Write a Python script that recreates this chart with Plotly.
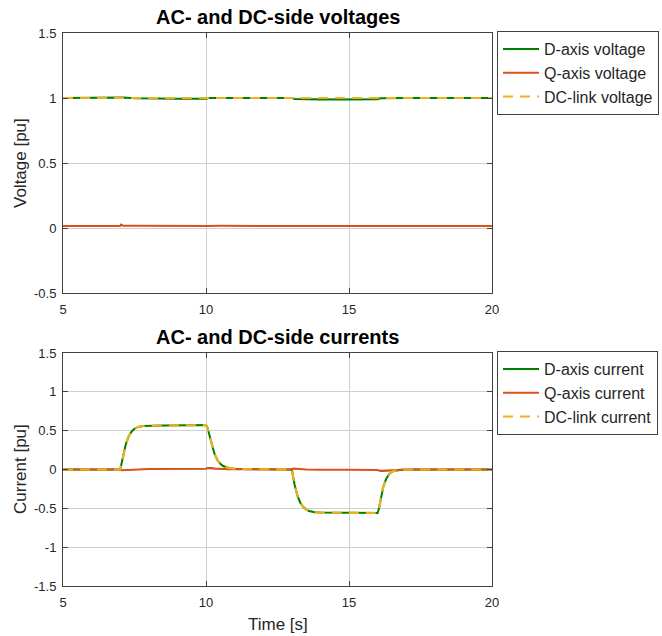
import plotly.graph_objects as go

# ---- time axes [s] ----
t_v = [5, 6.0, 7.0, 7.03, 7.1, 7.5, 8.0, 9.0, 10.0, 10.1, 10.5, 11.0, 12.0, 13.0, 13.1,
       13.5, 14.0, 15.0, 16.0, 16.1, 16.5, 17.0, 18.0, 19.0, 20]

# ---- voltages [pu] ----
v_d = [1.0, 1.0, 1.0, 1.004, 1.003, 0.998, 0.996, 0.995, 0.995, 1.0, 1.0, 1.0, 1.0, 1.0, 0.992,
       0.99, 0.989, 0.989, 0.99, 0.998, 1.0, 1.0, 1.0, 1.0, 1.0]
v_q = [0.015, 0.016, 0.016, 0.026, 0.018, 0.017, 0.016, 0.017, 0.016, 0.016, 0.017, 0.016, 0.016,
       0.016, 0.017, 0.016, 0.015, 0.016, 0.015, 0.018, 0.017, 0.016, 0.016, 0.016, 0.015]
v_dc = [1.0, 1.0, 1.0, 1.0, 1.0, 1.0, 1.0, 1.0, 1.0, 1.0, 1.0, 1.0, 1.0, 1.0, 1.0,
        1.0, 1.0, 1.0, 1.0, 1.0, 1.0, 1.0, 1.0, 1.0, 1.0]

t_i = [5, 7.0, 7.05, 7.1, 7.2, 7.3, 7.4, 7.5, 7.6, 7.8, 8.0, 8.5, 9.5,
       10.0, 10.05, 10.1, 10.15, 10.2, 10.3, 10.4, 10.5, 10.6, 10.8, 11.0, 11.5,
       13.0, 13.05, 13.1, 13.2, 13.3, 13.4, 13.5, 13.6, 13.8, 14.0, 15.0,
       16.0, 16.05, 16.1, 16.2, 16.3, 16.4, 16.5, 16.6, 16.8, 17.0, 17.5, 20]

# ---- currents [pu] ----
i_d = [0.0, 0.0, 0.08, 0.17, 0.33, 0.43, 0.49, 0.525, 0.545, 0.56, 0.565, 0.568, 0.57,
       0.572, 0.54, 0.48, 0.41, 0.33, 0.2, 0.12, 0.075, 0.045, 0.02, 0.01, 0.003,
       0.0, -0.1, -0.2, -0.34, -0.43, -0.48, -0.515, -0.535, -0.55, -0.555, -0.56,
       -0.56, -0.5, -0.4, -0.22, -0.12, -0.06, -0.03, -0.015, -0.005, 0.0, 0.0, 0.0]
i_q = [0.0, 0.0, -0.01, -0.012, -0.008, -0.005, -0.002, 0.0, 0.003, 0.004, 0.005, 0.005, 0.006,
       0.01, 0.02, 0.022, 0.02, 0.018, 0.013, 0.01, 0.008, 0.006, 0.004, 0.003, 0.0,
       0.0, 0.012, 0.012, 0.009, 0.006, 0.003, 0.001, 0.0, -0.002, -0.004, -0.004,
       -0.005, -0.015, -0.02, -0.018, -0.014, -0.01, -0.007, -0.005, -0.002, 0.0, 0.0, 0.0]
i_dc = list(i_d)

GREEN = "#008000"
ORANGE = "#D95319"
YELLOW = "#EDB120"
FONT = "Liberation Sans"
AX = "#262626"

fig = go.Figure()

def add_set(t, d, q, dc, names, xa, ya, leg):
    fig.add_trace(go.Scatter(x=t, y=d, mode="lines", name=names[0], xaxis=xa, yaxis=ya,
                             legend=leg, line=dict(color=GREEN, width=2)))
    fig.add_trace(go.Scatter(x=t, y=q, mode="lines", name=names[1], xaxis=xa, yaxis=ya,
                             legend=leg, line=dict(color=ORANGE, width=2)))
    fig.add_trace(go.Scatter(x=t, y=dc, mode="lines", name=names[2], xaxis=xa, yaxis=ya,
                             legend=leg, line=dict(color=YELLOW, width=2.2, dash="10px,7px")))

add_set(t_v, v_d, v_q, v_dc, ["D-axis voltage", "Q-axis voltage", "DC-link voltage"],
        "x", "y", "legend")
add_set(t_i, i_d, i_q, i_dc, ["D-axis current", "Q-axis current", "DC-link current"],
        "x2", "y2", "legend2")

W, H = 662, 636
xdom = [63 / W, 492 / W]

axis_common = dict(
    showline=True, linecolor="#404040", linewidth=1, mirror="ticks",
    ticks="inside", ticklen=5, tickcolor="#404040",
    showgrid=True, gridcolor="#d0d0d0", gridwidth=1, zeroline=False,
    tickfont=dict(family=FONT, size=13, color=AX), automargin=False,
)

xticks = [5, 10, 15, 20]
xlabels = ["5", "10", "15", "20"]
vticks = [-0.5, 0, 0.5, 1, 1.5]
vlabels = ["-0.5", "0", "0.5", "1", "1.5"]
iticks = [-1.5, -1, -0.5, 0, 0.5, 1, 1.5]
ilabels = ["-1.5", "-1", "-0.5", "0", "0.5", "1", "1.5"]

legend_style = dict(xanchor="left", yanchor="top", bgcolor="white",
                    bordercolor="#404040", borderwidth=1, itemwidth=36,
                    font=dict(family=FONT, size=16, color=AX))

fig.update_layout(
    width=W, height=H, margin=dict(l=0, r=0, t=0, b=0),
    paper_bgcolor="white", plot_bgcolor="white",
    font=dict(family=FONT, color=AX),
    xaxis=dict(domain=xdom, anchor="y", range=[5, 20], tickvals=xticks, ticktext=xlabels,
               ticklabelstandoff=4, **axis_common),
    yaxis=dict(domain=[1 - 293 / H, 1 - 33 / H], anchor="x", range=[-0.5, 1.5],
               tickvals=vticks, ticktext=vlabels, ticklabelstandoff=3, **axis_common),
    xaxis2=dict(domain=xdom, anchor="y2", range=[5, 20], tickvals=xticks, ticktext=xlabels,
                ticklabelstandoff=4, **axis_common),
    yaxis2=dict(domain=[1 - 586 / H, 1 - 353 / H], anchor="x2", range=[-1.5, 1.5],
                tickvals=iticks, ticktext=ilabels, ticklabelstandoff=3, **axis_common),
    legend=dict(x=497 / W, y=1 - 31 / H, **legend_style),
    legend2=dict(x=497 / W, y=1 - 351 / H, **legend_style),
    showlegend=True,
)

def px_x(p):
    return p / W

def px_y(p):
    return 1 - p / H

annotations = [
    dict(text="<b>AC- and DC-side voltages</b>", x=px_x(277.5), y=px_y(17), font=dict(size=20, color="black")),
    dict(text="<b>AC- and DC-side currents</b>", x=px_x(277.5), y=px_y(337), font=dict(size=20, color="black")),
    dict(text="Voltage [pu]", x=px_x(20), y=px_y(163), textangle=-90, font=dict(size=17, color=AX)),
    dict(text="Current [pu]", x=px_x(20), y=px_y(469), textangle=-90, font=dict(size=17, color=AX)),
    dict(text="Time [s]", x=px_x(278), y=px_y(624), font=dict(size=17, color=AX)),
]
for a in annotations:
    a.update(xref="paper", yref="paper", showarrow=False, xanchor="center", yanchor="middle")
    a["font"]["family"] = FONT
fig.update_layout(annotations=annotations)

fig.write_html("out.html")
